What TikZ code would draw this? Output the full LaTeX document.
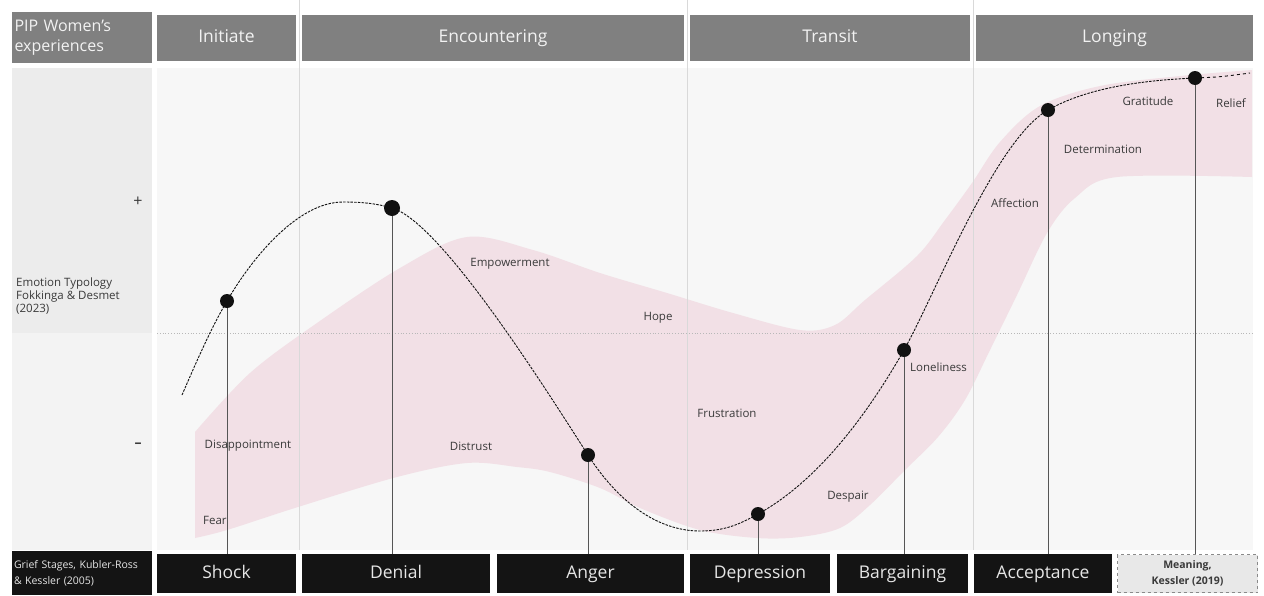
\documentclass[tikz,border=0pt]{standalone}
\usepackage{fontspec}
\setmainfont{Open Sans}
\definecolor{hdrgray}{HTML}{808080}
\definecolor{hdrtext}{HTML}{F2F2F2}
\definecolor{stageblack}{HTML}{141414}
\definecolor{stagetext}{HTML}{E6E6E6}
\definecolor{bandpink}{HTML}{F2E0E6}
\definecolor{panelgray}{HTML}{F7F7F7}
\definecolor{leftTop}{HTML}{ECECEC}
\definecolor{leftBot}{HTML}{F3F3F3}
\definecolor{labeltext}{HTML}{3A3A3A}
\definecolor{lineGray}{HTML}{555555}
\definecolor{sepGray}{HTML}{D9D9D9}
\definecolor{dotblack}{HTML}{111111}
\definecolor{meaningfill}{HTML}{E8E8E8}
\definecolor{meaningborder}{HTML}{8A8A8A}
\begin{document}
\begin{tikzpicture}[x=1pt,y=-1pt,
  hdr/.style={fill=hdrgray, text=hdrtext, font=\fontsize{17.5}{21}\selectfont, inner sep=0pt, minimum height=46pt, text height=13pt, text depth=4pt},
  stagebox/.style={fill=stageblack, text=stagetext, font=\fontsize{17.5}{21}\selectfont, inner sep=0pt, minimum height=39pt, text height=13pt, text depth=4pt},
  emo/.style={font=\fontsize{11.5}{13}\selectfont, text=labeltext, inner sep=0pt},
  dotnode/.style={circle, fill=dotblack, inner sep=0pt, minimum size=14pt},
  stageline/.style={draw=lineGray, line width=0.9pt},
  sepline/.style={draw=sepGray, line width=0.7pt},
  curveline/.style={draw=dotblack, line width=0.9pt, dash pattern=on 2.5pt off 1.2pt},
  curvetail/.style={draw=dotblack, line width=0.9pt, dash pattern=on 3pt off 3pt},
]
\useasboundingbox (0,0) rectangle (1264,595);
\fill[white] (0,0) rectangle (1264,595);

% backgrounds
\fill[panelgray] (157,68) rectangle (1253,550);
\fill[leftTop] (12,68) rectangle (152,333);
\fill[leftBot] (12,333) rectangle (152,550);

% pink band
\fill[bandpink] plot[smooth, tension=0.55] coordinates {(195,432) (250,373) (317,323) (400,268) (467,237) (533,250) (600,273) (667,293) (733,313) (800,330) (835,325) (865,300) (917,256) (945,220) (972,183) (1000,142) (1040,106) (1100,86) (1180,76) (1252,70)}
  -- plot[smooth, tension=0.55] coordinates {(1252,177) (1117,177) (1075,198) (1047,233) (1017,295) (990,350) (965,400) (938,437) (905,470) (870,505) (840,528) (800,537) (757,538) (700,530) (640,508) (600,488) (550,472) (517,467) (467,463) (397,477) (298,507) (227,530) (195,538)}
  -- cycle;

% separators
\draw[sepline] (299,0) -- (299,550);
\draw[sepline] (687,0) -- (687,550);
\draw[sepline] (973,0) -- (973,550);
\draw[draw=sepGray!85!black, line width=0.8pt, dotted] (157,333) -- (1253,333);

% header row
\node[fill=hdrgray, text=hdrtext, font=\fontsize{16}{20.5}\selectfont, inner sep=0pt, minimum width=140pt, minimum height=51pt, text width=135pt, align=left] (pip) at (82,37.5) {PIP Women's\\experiences};
\node[hdr, minimum width=139pt] (initiate) at (226.5,38) {Initiate};
\node[hdr, minimum width=382pt] (encountering) at (493,38) {Encountering};
\node[hdr, minimum width=280pt] (transit) at (830,38) {Transit};
\node[hdr, minimum width=277pt] (longing) at (1114.5,38) {Longing};

% bottom row
\node[fill=stageblack, text=stagetext, font=\fontsize{10.5}{16}\selectfont, inner sep=0pt, minimum width=140pt, minimum height=44pt, text width=136pt, align=left] (grief) at (82,573) {Grief Stages, Kubler-Ross\\\& Kessler (2005)};
\node[stagebox, minimum width=139pt] (shock) at (226.5,573.5) {Shock};
\node[stagebox, minimum width=188pt] (denial) at (396,573.5) {Denial};
\node[stagebox, minimum width=187pt] (anger) at (590.5,573.5) {Anger};
\node[stagebox, minimum width=140pt] (depression) at (760,573.5) {Depression};
\node[stagebox, minimum width=131pt] (bargaining) at (902.5,573.5) {Bargaining};
\node[stagebox, minimum width=138pt] (acceptance) at (1043,573.5) {Acceptance};
\node[fill=meaningfill, draw=meaningborder, dashed, line width=0.8pt, text=labeltext, font=\fontsize{10.5}{15.5}\selectfont\bfseries, inner sep=0pt, minimum width=140pt, minimum height=38pt, align=center] (meaning) at (1187.5,573.5) {Meaning,\\Kessler (2019)};

% left labels
\node[emo, anchor=west, align=left] (typology) at (16,296) {Emotion Typology\\Fokkinga \& Desmet\\(2023)};
\node[font=\fontsize{16}{18}\selectfont, text=labeltext, inner sep=0pt] (plus) at (138,202) {+};
\node[font=\fontsize{14}{18}\selectfont\bfseries, text=labeltext, inner sep=0pt] (minus) at (138,445) {–};

% curve points
\coordinate (c0) at (182,395);
\coordinate (pShock) at (227,301);
\coordinate (cPeak) at (343,202);
\coordinate (pDenial) at (392,208);
\coordinate (pAnger) at (588,455);
\coordinate (cTrough) at (700,531);
\coordinate (pDepr) at (758,514);
\coordinate (pBarg) at (904,350);
\coordinate (pAccept) at (1048,110);
\coordinate (pMean) at (1195,78);
\coordinate (cEnd) at (1250,73);

% stage lines
\draw[stageline] (pShock) -- (pShock |- shock.north);
\draw[stageline] (pDenial) -- (pDenial |- denial.north);
\draw[stageline] (pAnger) -- (pAnger |- anger.north);
\draw[stageline] (pDepr) -- (pDepr |- depression.north);
\draw[stageline] (pBarg) -- (pBarg |- bargaining.north);
\draw[stageline] (pAccept) -- (pAccept |- acceptance.north);
\draw[stageline] (pMean) -- (pMean |- meaning.north);

% curve
\draw[curveline] (c0) .. controls (195,365) and (210,330) .. (pShock)
  .. controls (255,253) and (300,202) .. (cPeak)
  .. controls (365,202) and (378,204) .. (pDenial)
  .. controls (440,222) and (540,380) .. (pAnger)
  .. controls (620,505) and (660,531) .. (cTrough)
  .. controls (725,531) and (740,524) .. (pDepr)
  .. controls (820,480) and (870,410) .. (pBarg)
  .. controls (935,295) and (995,140) .. (pAccept)
  .. controls (1090,86) and (1150,80) .. (pMean);
\draw[curvetail] (pMean) .. controls (1220,77) .. (cEnd);

% dots
\node[dotnode] (dShock) at (pShock) {};
\node[dotnode, minimum size=16pt] (dDenial) at (pDenial) {};
\node[dotnode] (dAnger) at (pAnger) {};
\node[dotnode] (dDepr) at (pDepr) {};
\node[dotnode] (dBarg) at (pBarg) {};
\node[dotnode] (dAccept) at (pAccept) {};
\node[dotnode] (dMean) at (pMean) {};

% emotion labels
\node[emo] (lEmp) at (510,264) {Empowerment};
\node[emo] (lHope) at (658,318) {Hope};
\node[emo] (lFrus) at (727,413) {Frustration};
\node[emo] (lDisap) at (248,446) {Disappointment};
\node[emo, anchor=west] (lFear) at (203,520) {Fear};
\node[emo] (lDistr) at (471,446) {Distrust};
\node[emo] (lDesp) at (848,497) {Despair};
\node[emo, anchor=west] (lLone) at (910,367) {Loneliness};
\node[emo] (lAff) at (1015,203) {Affection};
\node[emo] (lDet) at (1103,149) {Determination};
\node[emo] (lGrat) at (1148,101) {Gratitude};
\node[emo] (lRel) at (1231,103) {Relief};
\end{tikzpicture}
\end{document}
